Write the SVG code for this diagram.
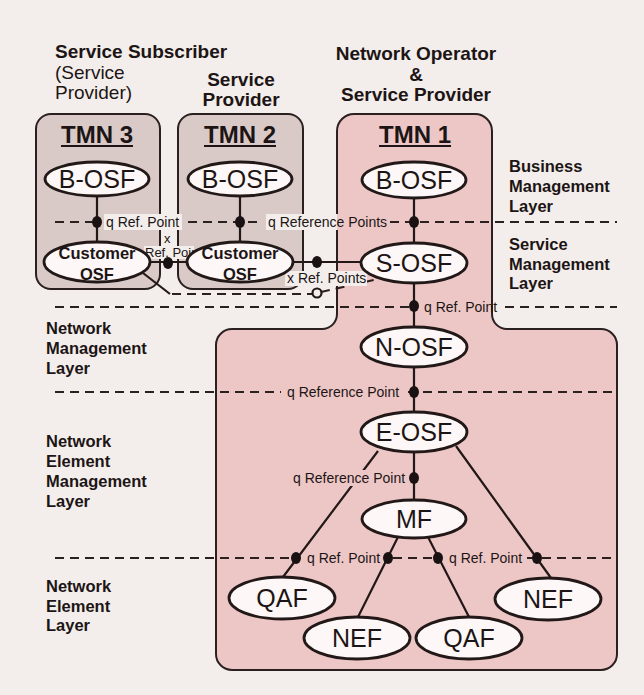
<svg xmlns="http://www.w3.org/2000/svg" width="644" height="695" viewBox="0 0 644 695">
<style>
.box{stroke:#2b2020;stroke-width:2}
.tmn23{fill:#d9cac7}
.tmn1{fill:#edc7c6}
.node ellipse{fill:#fdf8f7;stroke:#221818;stroke-width:2.8}
text{font-family:"Liberation Sans",Arial,Helvetica,sans-serif;fill:#1d1515}
.nt{font-size:25px;text-anchor:middle}
.cust{font-size:16.5px;font-weight:bold;text-anchor:middle}
.hd{font-size:19px;font-weight:bold}
.hdr{font-size:19px}
.mid{text-anchor:middle}
.ly{font-size:16.5px;font-weight:bold}
.tmn{font-size:24px;font-weight:bold;text-anchor:middle}
.ul{stroke:#1d1515;stroke-width:2}
.ref{font-size:14px}
.ref2{font-size:13px}
.dash{stroke:#2b2020;stroke-width:2;stroke-dasharray:9 6;fill:none}
.conn{stroke:#221818;stroke-width:2.2;fill:none}
.dot{fill:#1a1212}
.mbg{fill:#f3eeeb}
.mpk{fill:#edc7c6}
.mgr{fill:#d9cac7}
</style>
<rect width="644" height="695" fill="#f3eeeb"/>

<g id="tmn3">
<rect class="box tmn23" x="36" y="114" width="124" height="175" rx="15"/>
<text class="tmn" x="97" y="143">TMN 3</text>
<line class="ul" x1="61" y1="146" x2="133" y2="146"/>
</g>
<g id="tmn2">
<rect class="box tmn23" x="178" y="114" width="125" height="175" rx="15"/>
<text class="tmn" x="240" y="143">TMN 2</text>
<line class="ul" x1="204" y1="146" x2="276" y2="146"/>
</g>
<g id="tmn1">
<path class="box tmn1" d="M354,114 H475 A17,17 0 0 1 492,131 V314 A15,15 0 0 0 507,329 H601 A16,16 0 0 1 617,345 V654 A16,16 0 0 1 601,670 H232 A16,16 0 0 1 216,654 V345 A16,16 0 0 1 232,329 H322 A15,15 0 0 0 337,314 V131 A17,17 0 0 1 354,114 Z"/>
<text class="tmn" x="415" y="143">TMN 1</text>
<line class="ul" x1="379" y1="146" x2="451" y2="146"/>
</g>

<g id="headers">
<text class="hd" x="55" y="58">Service Subscriber</text>
<text class="hdr" x="55" y="79">(Service</text>
<text class="hdr" x="55" y="99">Provider)</text>
<text class="hd mid" x="241" y="86">Service</text>
<text class="hd mid" x="241" y="106">Provider</text>
<text class="hd mid" x="416" y="60">Network Operator</text>
<text class="hd mid" x="416" y="81">&amp;</text>
<text class="hd mid" x="416" y="101">Service Provider</text>
</g>

<g id="layers">
<text class="ly" x="509" y="172">Business</text>
<text class="ly" x="509" y="192">Management</text>
<text class="ly" x="509" y="212">Layer</text>
<text class="ly" x="509" y="250">Service</text>
<text class="ly" x="509" y="270">Management</text>
<text class="ly" x="509" y="289">Layer</text>
<text class="ly" x="46" y="334">Network</text>
<text class="ly" x="46" y="354">Management</text>
<text class="ly" x="46" y="374">Layer</text>
<text class="ly" x="46" y="447">Network</text>
<text class="ly" x="46" y="467">Element</text>
<text class="ly" x="46" y="487">Management</text>
<text class="ly" x="46" y="507">Layer</text>
<text class="ly" x="46" y="592">Network</text>
<text class="ly" x="46" y="612">Element</text>
<text class="ly" x="46" y="631">Layer</text>
</g>

<g id="separators">
<path class="dash" d="M55,222 H97 M188,222 H262 M390,222 H617"/>
<path class="dash" d="M55,307 H414 M505,307 H617"/>
<path class="dash" d="M55,392 H281 M408,392 H617"/>
<path class="dash" d="M55,558 H296 M393,558 H438 M527,558 H617"/>
</g>

<g id="connectors">
<path class="conn" d="M97,196 V242 M240,196 V242 M414,198 V243 M414,283 V327 M414,367 V412 M414,452 V500"/>
<path class="conn" d="M150,262 H187 M293,262 H361"/>
<path class="conn" d="M143,273 L170,294"/>
<path class="dash" d="M172,294 H312 M321,292 L378,279"/>
<path class="conn" d="M378,451 L283,577 M456,446 L551,578 M398,537 L358,617 M428,537 L469,617"/>
</g>

<g id="ref-labels">
<rect class="mbg" x="104" y="214" width="78" height="16"/>
<text class="ref" x="106" y="227">q Ref. Point</text>
<rect class="mbg" x="266" y="214" width="71" height="16"/>
<rect class="mpk" x="337" y="214" width="52" height="16"/>
<text class="ref" x="268" y="227">q Reference Points</text>
<text class="ref" x="424" y="312">q Ref. Point</text>
<text class="ref" x="287" y="397">q Reference Point</text>
<rect class="mpk" x="291" y="470" width="114" height="16"/>
<text class="ref" x="293" y="483">q Reference Point</text>
<text class="ref" x="307" y="563">q Ref. Point</text>
<text class="ref" x="449" y="563">q Ref. Point</text>
<rect class="mbg" x="285" y="271" width="82" height="15"/>
<text class="ref" x="287" y="283">x Ref. Points</text>
<rect class="mbg" x="144" y="246" width="50" height="13"/>
<text class="ref2" x="164" y="243">x</text>
<text class="ref2" x="145" y="257">Ref. Point</text>
</g>

<g id="b-osf-3" class="node"><ellipse cx="97" cy="179" rx="52" ry="17"/><text class="nt" x="97" y="188">B-OSF</text></g>
<g id="b-osf-2" class="node"><ellipse cx="240" cy="179" rx="52" ry="17"/><text class="nt" x="240" y="188">B-OSF</text></g>
<g id="b-osf-1" class="node"><ellipse cx="414" cy="180" rx="52" ry="18"/><text class="nt" x="414" y="189">B-OSF</text></g>
<g id="customer-osf-3" class="node"><ellipse cx="97" cy="262" rx="53" ry="20"/><text class="cust" x="97" y="259">Customer</text><text class="cust" x="97" y="280">OSF</text></g>
<g id="customer-osf-2" class="node"><ellipse cx="240" cy="262" rx="53" ry="20"/><text class="cust" x="240" y="259">Customer</text><text class="cust" x="240" y="280">OSF</text></g>
<g id="s-osf" class="node"><ellipse cx="414" cy="263" rx="53" ry="20"/><text class="nt" x="414" y="272">S-OSF</text></g>
<g id="n-osf" class="node"><ellipse cx="414" cy="347" rx="53" ry="20"/><text class="nt" x="414" y="356">N-OSF</text></g>
<g id="e-osf" class="node"><ellipse cx="414" cy="432" rx="53" ry="20"/><text class="nt" x="414" y="441">E-OSF</text></g>
<g id="mf" class="node"><ellipse cx="414" cy="519" rx="52" ry="19"/><text class="nt" x="414" y="528">MF</text></g>
<g id="qaf-1" class="node"><ellipse cx="282" cy="598" rx="53" ry="21"/><text class="nt" x="282" y="607">QAF</text></g>
<g id="nef-1" class="node"><ellipse cx="357" cy="638" rx="53" ry="21"/><text class="nt" x="357" y="647">NEF</text></g>
<g id="qaf-2" class="node"><ellipse cx="469" cy="638" rx="53" ry="21"/><text class="nt" x="469" y="647">QAF</text></g>
<g id="nef-2" class="node"><ellipse cx="548" cy="599" rx="53" ry="21"/><text class="nt" x="548" y="608">NEF</text></g>

<g id="ref-points">
<ellipse class="dot" cx="97" cy="222" rx="5" ry="6"/>
<ellipse class="dot" cx="240" cy="222" rx="5" ry="6"/>
<ellipse class="dot" cx="414" cy="222" rx="5" ry="6"/>
<ellipse class="dot" cx="168" cy="263" rx="5" ry="6"/>
<ellipse class="dot" cx="317" cy="262" rx="5" ry="6"/>
<ellipse class="dot" cx="414" cy="306" rx="5" ry="6"/>
<ellipse class="dot" cx="414" cy="392" rx="5" ry="6"/>
<ellipse class="dot" cx="414" cy="478" rx="5" ry="6"/>
<ellipse class="dot" cx="296" cy="558" rx="5" ry="6"/>
<ellipse class="dot" cx="388" cy="558" rx="5" ry="6"/>
<ellipse class="dot" cx="438" cy="558" rx="5" ry="6"/>
<ellipse class="dot" cx="537" cy="558" rx="5" ry="6"/>
<circle cx="317" cy="293" r="4.5" fill="#f3eeeb" stroke="#221818" stroke-width="2.2"/>
</g>
</svg>
